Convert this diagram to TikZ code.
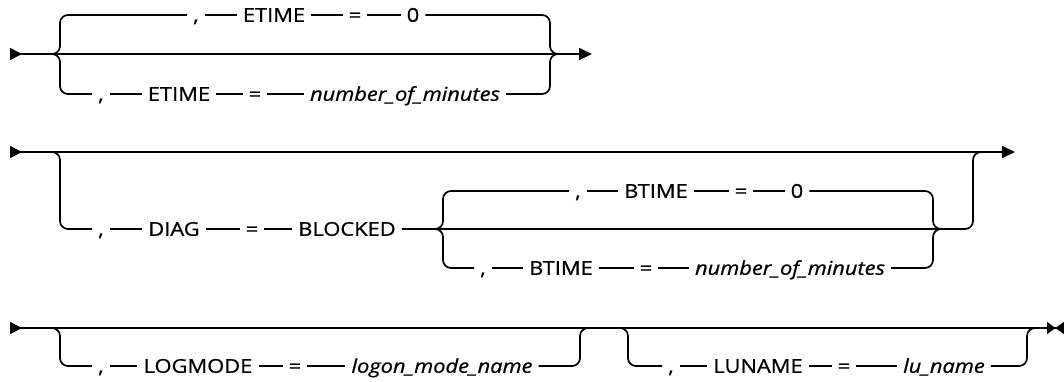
\documentclass[tikz,border=0pt]{standalone}
\usepackage{fontspec}
\setmainfont{Open Sans}[FakeStretch=1.15, FakeBold=0.8]
\usetikzlibrary{arrows.meta}

\tikzset{
  rail/.style={line width=1.7pt, rounded corners=8pt},
  tok/.style={inner xsep=6pt, inner ysep=0pt, text height=13.5pt, text depth=0pt,
    font=\fontsize{19}{22}\selectfont},
  var/.style={tok, font=\fontsize{19}{22}\selectfont\itshape},
  begtip/.style={{Triangle[reversed,length=12pt,width=12pt]}-{Triangle[length=13pt,width=12pt]}},
  endtip/.style={{Triangle[reversed,length=12pt,width=12pt]}-{Triangle[length=8.5pt,width=12pt,sep=0pt]Triangle[reversed,length=8.5pt,width=12pt]}},
}

\begin{document}
\begin{tikzpicture}[x=1pt, y=-1pt]
\useasboundingbox (0,0) rectangle (1064,381);

% first diagram: ETIME
\coordinate (s1) at (10,54);
\coordinate (e1) at (592,54);
\coordinate (lb1) at (52,54);
\coordinate (rb1) at (558,54);
\node[tok] (c1) at (196,15) {,};
\node[tok] (et1) at (274,15) {ETIME};
\node[tok] (eq1) at (355,15) {=};
\node[tok] (z1) at (413,15) {0};
\node[tok] (c2) at (101,94) {,};
\node[tok] (et2) at (179,94) {ETIME};
\node[tok] (eq2) at (255,94) {=};
\node[var] (n1) at (405,94) {number\_of\_minutes};
\draw[rail, begtip] (s1) -- (e1);
\draw[rail] (lb1) -- (60,54) -- (60,15) -- (c1.west);
\draw[rail] (c1.east) -- (et1.west) (et1.east) -- (eq1.west) (eq1.east) -- (z1.west);
\draw[rail] (z1.east) -- (550,15) -- (550,54) -- (rb1);
\draw[rail] (lb1) -- (60,54) -- (60,94) -- (c2.west);
\draw[rail] (c2.east) -- (et2.west) (et2.east) -- (eq2.west) (eq2.east) -- (n1.west);
\draw[rail] (n1.east) -- (550,94) -- (550,54) -- (rb1);

% second diagram: DIAG=BLOCKED
\coordinate (s2) at (10,152);
\coordinate (e2) at (1015,152);
\coordinate (d0) at (48,152);
\coordinate (d1) at (985,152);
\coordinate (lb2) at (435,229);
\coordinate (rb2) at (941,229);
\node[tok] (c3) at (101,229) {,};
\node[tok] (dg) at (174,229) {DIAG};
\node[tok] (eq3) at (252,229) {=};
\node[tok] (blk) at (347,229) {BLOCKED};
\node[tok] (c4) at (578,191) {,};
\node[tok] (bt1) at (656,191) {BTIME};
\node[tok] (eq4) at (741,191) {=};
\node[tok] (z2) at (797,191) {0};
\node[tok] (c5) at (483,268) {,};
\node[tok] (bt2) at (561,268) {BTIME};
\node[tok] (eq5) at (646,268) {=};
\node[var] (n2) at (790,268) {number\_of\_minutes};
\draw[rail, begtip] (s2) -- (e2);
\draw[rail] (d0) -- (60,152) -- (60,229) -- (c3.west);
\draw[rail] (c3.east) -- (dg.west) (dg.east) -- (eq3.west) (eq3.east) -- (blk.west);
\draw[rail] (blk.east) -- (973,229) -- (973,152) -- (d1);
\draw[rail] (lb2) -- (443,229) -- (443,191) -- (c4.west);
\draw[rail] (c4.east) -- (bt1.west) (bt1.east) -- (eq4.west) (eq4.east) -- (z2.west);
\draw[rail] (z2.east) -- (933,191) -- (933,229) -- (rb2);
\draw[rail] (lb2) -- (443,229) -- (443,268) -- (c5.west);
\draw[rail] (c5.east) -- (bt2.west) (bt2.east) -- (eq5.west) (eq5.east) -- (n2.west);
\draw[rail] (n2.east) -- (933,268) -- (933,229) -- (rb2);

% third diagram: LOGMODE, LUNAME
\coordinate (s3) at (10,328);
\coordinate (e3) at (1064,328);
\coordinate (g0) at (48,328);
\coordinate (g1) at (590,328);
\coordinate (g2) at (616,328);
\coordinate (g3) at (1037,328);
\node[tok] (c6) at (101,366) {,};
\node[tok] (lgm) at (198,366) {LOGMODE};
\node[tok] (eq6) at (295,366) {=};
\node[var] (lmn) at (442,366) {logon\_mode\_name};
\node[tok] (c7) at (671,366) {,};
\node[tok] (lun) at (758,366) {LUNAME};
\node[tok] (eq7) at (844,366) {=};
\node[var] (lu) at (944,366) {lu\_name};
\draw[rail, endtip] (s3) -- (e3);
\draw[rail] (g0) -- (60,328) -- (60,366) -- (c6.west);
\draw[rail] (c6.east) -- (lgm.west) (lgm.east) -- (eq6.west) (eq6.east) -- (lmn.west);
\draw[rail] (lmn.east) -- (580,366) -- (580,328) -- (g1);
\draw[rail] (g2) -- (628,328) -- (628,366) -- (c7.west);
\draw[rail] (c7.east) -- (lun.west) (lun.east) -- (eq7.west) (eq7.east) -- (lu.west);
\draw[rail] (lu.east) -- (1027,366) -- (1027,328) -- (g3);
\end{tikzpicture}
\end{document}
